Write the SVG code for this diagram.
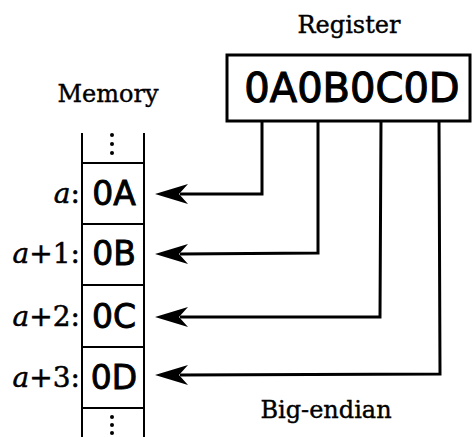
<svg xmlns="http://www.w3.org/2000/svg" width="476" height="437" viewBox="0 0 476 437">
<defs>
<style>
.lbl{font-family:"DejaVu Serif","Liberation Serif",serif;font-size:24px;fill:#000;stroke:#000;stroke-width:0.4}
.addr{font-family:"DejaVu Serif","Liberation Serif",serif;font-size:28px;fill:#000;text-anchor:end;stroke:#000;stroke-width:0.5}
.cell{font-family:"DejaVu Sans","Liberation Sans",sans-serif;font-size:33px;fill:#000;text-anchor:middle;stroke:#000;stroke-width:0.9}
.reg{font-family:"DejaVu Sans","Liberation Sans",sans-serif;font-size:40px;fill:#000;text-anchor:middle;stroke:#000;stroke-width:1.1}
.wire{fill:none;stroke:#000;stroke-width:3;stroke-linejoin:miter}
.col{fill:none;stroke:#000;stroke-width:2}
.head{fill:#000}
</style>
<path id="ah" d="M0,0 L33,-10 L24,0 L33,10 Z"/>
</defs>
<rect width="476" height="437" fill="#fff"/>
<text class="lbl" x="349" y="33" text-anchor="middle">Register</text>
<text class="lbl" x="108" y="102" text-anchor="middle">Memory</text>
<text class="lbl" x="326" y="418" text-anchor="middle">Big-endian</text>
<g id="register">
<rect x="227" y="55" width="243" height="66" fill="#fff" stroke="#000" stroke-width="3"/>
<text class="reg" x="352" y="102">0A0B0C0D</text>
</g>
<g id="memory">
<line class="col" x1="82" y1="133" x2="82" y2="437"/>
<line class="col" x1="144" y1="133" x2="144" y2="437"/>
<line class="col" x1="82" y1="163" x2="144" y2="163"/>
<line class="col" x1="82" y1="224" x2="144" y2="224"/>
<line class="col" x1="82" y1="285" x2="144" y2="285"/>
<line class="col" x1="82" y1="347" x2="144" y2="347"/>
<line class="col" x1="82" y1="408" x2="144" y2="408"/>
<circle cx="112" cy="135" r="2"/><circle cx="112" cy="144" r="2"/><circle cx="112" cy="153" r="2"/>
<circle cx="112" cy="417" r="2"/><circle cx="112" cy="425" r="2"/><circle cx="112" cy="433" r="2"/>
</g>
<g id="cell-a"><text class="cell" x="114" y="205">0A</text><text class="addr" x="80" y="203"><tspan font-style="italic">a</tspan>:</text></g>
<g id="cell-a1"><text class="cell" x="114" y="265">0B</text><text class="addr" x="80" y="263"><tspan font-style="italic">a</tspan>+1:</text></g>
<g id="cell-a2"><text class="cell" x="114" y="328">0C</text><text class="addr" x="80" y="326"><tspan font-style="italic">a</tspan>+2:</text></g>
<g id="cell-a3"><text class="cell" x="114" y="389">0D</text><text class="addr" x="80" y="387"><tspan font-style="italic">a</tspan>+3:</text></g>
<g id="connectors">
<polyline class="wire" points="262,121 262,194 180,194"/>
<polyline class="wire" points="318,121 318,253 180,254"/>
<polyline class="wire" points="381,121 380,317 180,317"/>
<polyline class="wire" points="439,121 440,374 180,375"/>
<use href="#ah" class="head" x="155" y="194"/>
<use href="#ah" class="head" x="155" y="254"/>
<use href="#ah" class="head" x="155" y="317"/>
<use href="#ah" class="head" x="155" y="375"/>
</g>
</svg>
